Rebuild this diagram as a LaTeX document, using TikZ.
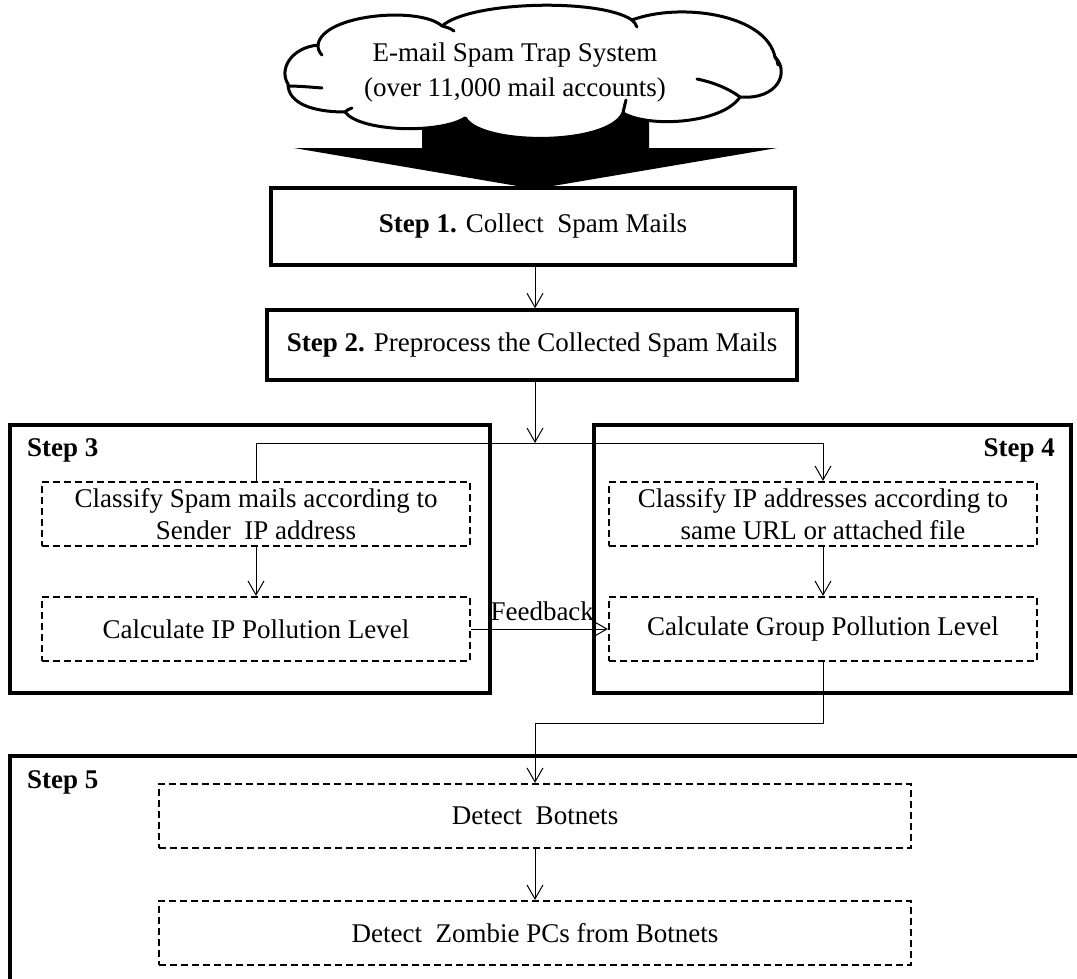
\documentclass[tikz,border=0pt]{standalone}
\usepackage{fontspec}
\setmainfont{Liberation Serif}
\usetikzlibrary{arrows.meta,calc}
\begin{document}
\begin{tikzpicture}[x=1pt,y=-1pt,
  every node/.style={font=\fontsize{27}{32}\selectfont},
  mainbox/.style={draw,line width=3.5pt,inner sep=0pt,align=center},
  dbox/.style={draw,dash pattern=on 7pt off 4pt,line width=2.2pt,inner sep=0pt,align=center,minimum width=428pt,minimum height=64pt},
  frame/.style={draw,line width=3.5pt},
  cloudline/.style={line width=3pt,line cap=round,line join=round},
  conn/.style={line width=1pt},
  arr/.style={conn,-{Straight Barb[length=14pt,width=16pt,line width=1pt]}},
  steplbl/.style={font=\fontsize{27}{32}\selectfont\bfseries,inner sep=0pt}]
\useasboundingbox (0,0) rectangle (1077,978);

% big black arrow under the cloud
\fill (422,110) -- (649,110) -- (649,148) -- (777,148) -- (535,189) -- (294,148) -- (422,148) -- cycle;

% cloud
\filldraw[cloudline,fill=white]
  (288,84) .. controls (279,70) and (290,48) .. (318,45)
  .. controls (322,14) and (420,6) .. (442,26)
  .. controls (470,1) and (600,-2) .. (632,20)
  .. controls (680,2) and (766,14) .. (775,57)
  .. controls (790,72) and (778,100) .. (740,97)
  .. controls (722,124) and (648,128) .. (623,113)
  .. controls (608,146) and (482,146) .. (465,118)
  .. controls (440,134) and (360,132) .. (345,112)
  .. controls (314,112) and (288,104) .. cycle;
\draw[cloudline] (318,45) .. controls (318,49) and (319,52) .. (322,55);
\draw[cloudline] (442,26) .. controls (446,27) and (450,28) .. (454,31);
\draw[cloudline] (632,20) .. controls (634,22) and (636,24) .. (637,27);
\draw[cloudline] (775,57) .. controls (777,60) and (778,62) .. (778,65);
\draw[cloudline] (740,97) .. controls (728,88) and (712,82) .. (697,79);
\draw[cloudline] (623,113) .. controls (624,108) and (625,104) .. (626,100);
\draw[cloudline] (465,118) .. controls (468,122) and (472,126) .. (476,128);
\draw[cloudline] (345,112) .. controls (347,110) and (349,109) .. (352,108);
\draw[cloudline] (288,86) .. controls (297,86) and (310,87) .. (322,88);
\node[align=center,inner sep=0pt,font=\fontsize{27}{35}\selectfont] (cloudtext) at (515,73) {E-mail Spam Trap System\\(over 11,000 mail accounts)};

% steps 1 and 2
\node[mainbox,minimum width=524pt,minimum height=77pt] (s1) at (533,226.5) {\textbf{Step 1.} Collect\ \ Spam Mails};
\node[mainbox,minimum width=530pt,minimum height=70pt] (s2) at (532,345) {\textbf{Step 2.} Preprocess the Collected Spam Mails};

% step 3 and 4 frames
\draw[frame] (10,425) rectangle (490,693);
\draw[frame] (594,425) rectangle (1071,693);
\node[steplbl,anchor=west] (l3) at (27,450) {Step 3};
\node[steplbl,anchor=east] (l4) at (1055,450) {Step 4};

\node[dbox] (A) at (256,514) {Classify Spam mails according to\\Sender\ \ IP address};
\node[dbox] (B) at (256,629) {Calculate IP Pollution Level};
\node[dbox] (C) at (823,514) {Classify IP addresses according to\\same URL or attached file};
\node[dbox] (D) at (823,629) {Calculate Group Pollution Level};

% step 5 frame
\draw[frame] (1082,756) -- (10,756) -- (10,985);
\node[steplbl,anchor=west] (l5) at (27,782) {Step 5};
\node[dbox,minimum width=752pt,minimum height=64pt] (E) at (535,816) {Detect\ \ Botnets};
\node[dbox,minimum width=752pt,minimum height=64pt] (F) at (535,933) {Detect\ \ Zombie PCs from Botnets};

% connectors
\coordinate (j) at (535,443);
\draw[arr] (s1.south -| j) -- (s2.north -| j);
\draw[arr] (s2.south -| j) -- (j);
\draw[conn] (A.north) |- (j);
\draw[arr] (j) -| (C.north);
\draw[arr] (A.south) -- (B.north);
\draw[arr] (C.south) -- (D.north);
\draw[arr] (B.east) -- node[above=8pt,inner sep=0pt,pos=0.52] (fb) {Feedback} (D.west);
\draw[arr] (D.south) -- ++(0,61) -| (E.north);
\draw[arr] (E.south) -- (F.north);
\end{tikzpicture}
\end{document}
